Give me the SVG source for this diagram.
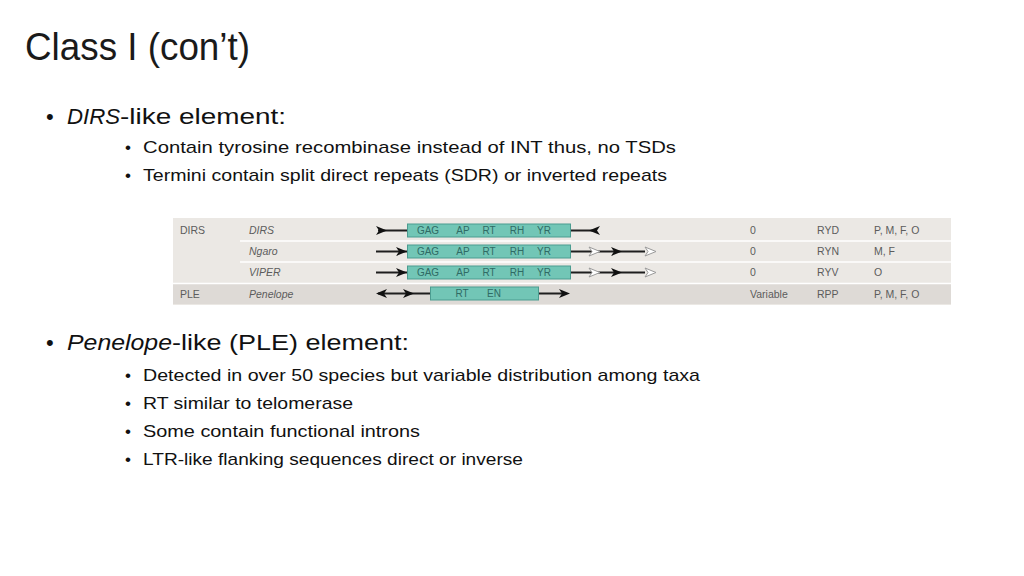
<svg xmlns="http://www.w3.org/2000/svg" xmlns:xlink="http://www.w3.org/1999/xlink" width="1024" height="576" viewBox="0 0 1024 576">
<style>
.title{font-family:"Liberation Sans","Open Sans",sans-serif;font-size:38px;fill:#1a1a1a}
.l1{font-family:"Liberation Sans","Open Sans",sans-serif;font-size:22px;fill:#111}
.l2{font-family:"Liberation Sans","Open Sans",sans-serif;font-size:17px;fill:#111}
.it{font-style:italic}
.tb{font-family:"Liberation Sans","Open Sans",sans-serif;font-size:10.5px;fill:#5c5c5c}
.bx{font-family:"Liberation Sans","Open Sans",sans-serif;font-size:10px;fill:#2f6a64;text-anchor:middle}
.box{fill:#72c6b6;stroke:#4b9c90;stroke-width:1}
.ln{stroke:#1e1e1e;stroke-width:2;fill:none}
.blk{fill:#111}
.opn{fill:#fff;stroke:#9a9a9a;stroke-width:1}
</style>
<defs>
<path id="ah" d="M0,0 L-11,-4.5 L-8,0 L-11,4.5 Z"/>
</defs>
<rect width="1024" height="576" fill="#fff"/>
<g id="title">
<text class="title" x="25" y="60" textLength="225" lengthAdjust="spacingAndGlyphs">Class I (con’t)</text>
</g>
<g id="bullets-top">
<text class="l1" x="46" y="124">•</text>
<text class="l1 it" x="67" y="124" textLength="53" lengthAdjust="spacingAndGlyphs">DIRS</text>
<text class="l1" x="120" y="124" textLength="166" lengthAdjust="spacingAndGlyphs">-like element:</text>
<text class="l2" x="125" y="153">•</text>
<text class="l2" x="143" y="153" textLength="533" lengthAdjust="spacingAndGlyphs">Contain tyrosine recombinase instead of INT thus, no TSDs</text>
<text class="l2" x="125" y="181">•</text>
<text class="l2" x="143" y="181" textLength="524" lengthAdjust="spacingAndGlyphs">Termini contain split direct repeats (SDR) or inverted repeats</text>
</g>
<g id="table">
<rect x="173" y="218" width="778" height="87" fill="#ebe8e4"/>
<rect x="173" y="284" width="778" height="20" fill="#dedad6"/>
<line x1="240" y1="241" x2="951" y2="241" stroke="#fff" stroke-width="1.5"/>
<line x1="240" y1="262" x2="951" y2="262" stroke="#fff" stroke-width="1.5"/>
<line x1="173" y1="283.5" x2="951" y2="283.5" stroke="#fff" stroke-width="1.5"/>
<text class="tb" x="180" y="234">DIRS</text>
<text class="tb" x="180" y="298">PLE</text>
<text class="tb it" x="249" y="234">DIRS</text>
<text class="tb it" x="249" y="255">Ngaro</text>
<text class="tb it" x="249" y="276">VIPER</text>
<text class="tb it" x="249" y="298">Penelope</text>
<text class="tb" x="750" y="234">0</text>
<text class="tb" x="750" y="255">0</text>
<text class="tb" x="750" y="276">0</text>
<text class="tb" x="750" y="298">Variable</text>
<text class="tb" x="817" y="234">RYD</text>
<text class="tb" x="817" y="255">RYN</text>
<text class="tb" x="817" y="276">RYV</text>
<text class="tb" x="817" y="298">RPP</text>
<text class="tb" x="874" y="234">P, M, F, O</text>
<text class="tb" x="874" y="255">M, F</text>
<text class="tb" x="874" y="276">O</text>
<text class="tb" x="874" y="298">P, M, F, O</text>
</g>
<g id="connectors">
<!-- row 1 DIRS -->
<line class="ln" x1="378" y1="230.5" x2="407" y2="230.5"/>
<line class="ln" x1="570" y1="230.5" x2="597" y2="230.5"/>
<use href="#ah" xlink:href="#ah" class="blk" transform="translate(387,230.5)"/>
<use href="#ah" xlink:href="#ah" class="blk" transform="translate(589,230.5) rotate(180)"/>
<!-- row 2 Ngaro -->
<line class="ln" x1="376" y1="251.5" x2="407" y2="251.5"/>
<line class="ln" x1="570" y1="251.5" x2="645" y2="251.5"/>
<use href="#ah" xlink:href="#ah" class="blk" transform="translate(407,251.5)"/>
<use href="#ah" xlink:href="#ah" class="opn" transform="translate(600,251.5)"/>
<use href="#ah" xlink:href="#ah" class="blk" transform="translate(622,251.5)"/>
<use href="#ah" xlink:href="#ah" class="opn" transform="translate(656,251.5)"/>
<!-- row 3 VIPER -->
<line class="ln" x1="376" y1="272.5" x2="407" y2="272.5"/>
<line class="ln" x1="570" y1="272.5" x2="645" y2="272.5"/>
<use href="#ah" xlink:href="#ah" class="blk" transform="translate(407,272.5)"/>
<use href="#ah" xlink:href="#ah" class="opn" transform="translate(600,272.5)"/>
<use href="#ah" xlink:href="#ah" class="blk" transform="translate(622,272.5)"/>
<use href="#ah" xlink:href="#ah" class="opn" transform="translate(656,272.5)"/>
<!-- row 4 Penelope -->
<line class="ln" x1="378" y1="293.5" x2="430" y2="293.5"/>
<line class="ln" x1="538" y1="293.5" x2="566" y2="293.5"/>
<use href="#ah" xlink:href="#ah" class="blk" transform="translate(376,293.5) rotate(180)"/>
<use href="#ah" xlink:href="#ah" class="blk" transform="translate(414,293.5)"/>
<use href="#ah" xlink:href="#ah" class="blk" transform="translate(570,293.5)"/>
</g>
<g id="dirs-element">
<rect class="box" x="407.5" y="224" width="163" height="13"/>
<text class="bx" x="428" y="234">GAG</text><text class="bx" x="463" y="234">AP</text><text class="bx" x="489" y="234">RT</text><text class="bx" x="517" y="234">RH</text><text class="bx" x="544" y="234">YR</text>
</g>
<g id="ngaro-element">
<rect class="box" x="407.5" y="245" width="163" height="13"/>
<text class="bx" x="428" y="255">GAG</text><text class="bx" x="463" y="255">AP</text><text class="bx" x="489" y="255">RT</text><text class="bx" x="517" y="255">RH</text><text class="bx" x="544" y="255">YR</text>
</g>
<g id="viper-element">
<rect class="box" x="407.5" y="266" width="163" height="13"/>
<text class="bx" x="428" y="276">GAG</text><text class="bx" x="463" y="276">AP</text><text class="bx" x="489" y="276">RT</text><text class="bx" x="517" y="276">RH</text><text class="bx" x="544" y="276">YR</text>
</g>
<g id="penelope-element">
<rect class="box" x="430.5" y="287" width="108" height="13"/>
<text class="bx" x="462" y="297">RT</text><text class="bx" x="494" y="297">EN</text>
</g>
<g id="bullets-bottom">
<text class="l1" x="46" y="350">•</text>
<text class="l1 it" x="67" y="350" textLength="105" lengthAdjust="spacingAndGlyphs">Penelope</text>
<text class="l1" x="172" y="350" textLength="237" lengthAdjust="spacingAndGlyphs">-like (PLE) element:</text>
<text class="l2" x="125" y="381">•</text>
<text class="l2" x="143" y="381" textLength="557" lengthAdjust="spacingAndGlyphs">Detected in over 50 species but variable distribution among taxa</text>
<text class="l2" x="125" y="409">•</text>
<text class="l2" x="143" y="409" textLength="210" lengthAdjust="spacingAndGlyphs">RT similar to telomerase</text>
<text class="l2" x="125" y="437">•</text>
<text class="l2" x="143" y="437" textLength="277" lengthAdjust="spacingAndGlyphs">Some contain functional introns</text>
<text class="l2" x="125" y="465">•</text>
<text class="l2" x="143" y="465" textLength="380" lengthAdjust="spacingAndGlyphs">LTR-like flanking sequences direct or inverse</text>
</g>
</svg>
